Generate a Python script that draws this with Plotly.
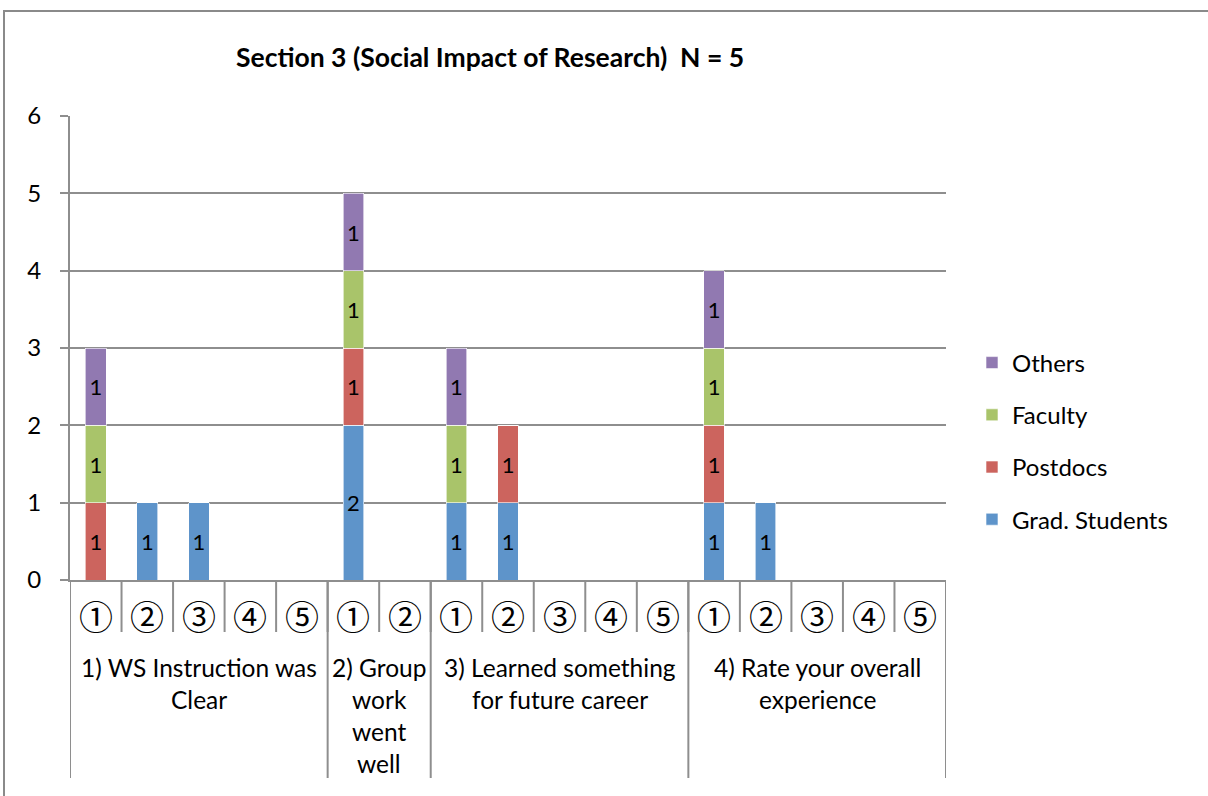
import plotly.graph_objects as go

# ---- data ----
groups = ["1) WS Instruction was\nClear",
          "2) Group\nwork\nwent\nwell",
          "3) Learned something\nfor future career",
          "4) Rate your overall\nexperience"]
group_sizes = [5, 2, 5, 5]
sub_labels = ["①", "②", "③", "④", "⑤", "①", "②",
              "①", "②", "③", "④", "⑤", "①", "②", "③", "④", "⑤"]
grad = [0, 1, 1, 0, 0, 2, 0, 1, 1, 0, 0, 0, 1, 1, 0, 0, 0]
postdocs = [1, 0, 0, 0, 0, 1, 0, 0, 1, 0, 0, 0, 1, 0, 0, 0, 0]
faculty = [1, 0, 0, 0, 0, 1, 0, 1, 0, 0, 0, 0, 1, 0, 0, 0, 0]
others = [1, 0, 0, 0, 0, 1, 0, 1, 0, 0, 0, 0, 1, 0, 0, 0, 0]
series = [("Grad. Students", grad, "#5E94CA"),
          ("Postdocs", postdocs, "#CC645E"),
          ("Faculty", faculty, "#A9C46A"),
          ("Others", others, "#9179B1")]
title = "Section 3 (Social Impact of Research)  N = 5"

FONT = "Lato, Open Sans, DejaVu Sans, sans-serif"
CIRC = "Noto Sans CJK JP"
W, H = 1208, 796
L, R, T, B = 70, 946, 116, 580
GRID = "#8E8E8E"

xs = list(range(len(sub_labels)))
fig = go.Figure()
for i, (name, vals, col) in enumerate(series):
    fig.add_trace(go.Bar(
        x=xs, y=vals, name=name, marker=dict(color=col, line=dict(width=0.6, color="white")),
        width=0.4, text=[str(v) if v > 0 else "" for v in vals],
        textposition="inside", insidetextanchor="middle", textangle=0,
        textfont=dict(color="black", size=22, family=FONT),
        legendgroup=name, legendrank=len(series) - i, hoverinfo="skip"))

def py(p):
    return (B - p) / (B - T)

def px(p):
    return (p - L) / (R - L)

shapes = []
annotations = []
n = len(sub_labels)
# subcategory dividers
for i in range(n + 1):
    shapes.append(dict(type="line", xref="x", yref="paper", x0=i - 0.5, x1=i - 0.5,
                       y0=py(580), y1=py(632), line=dict(color=GRID, width=2)))
# group dividers & labels
start = 0
bounds = [0]
for s in group_sizes:
    start += s
    bounds.append(start)
for b in bounds:
    shapes.append(dict(type="line", xref="x", yref="paper", x0=b - 0.5, x1=b - 0.5,
                       y0=py(580), y1=py(778), line=dict(color=GRID, width=2)))
for gi, g in enumerate(groups):
    cx = (bounds[gi] + bounds[gi + 1] - 1) / 2
    for li, line in enumerate(g.split("\n")):
        annotations.append(dict(x=cx, y=py(667 + 32 * li), xref="x", yref="paper",
                                text=line, showarrow=False, yanchor="middle",
                                font=dict(size=24.5, family=FONT, color="black")))
for i, lab in enumerate(sub_labels):
    annotations.append(dict(x=i, y=py(615), xref="x", yref="paper", text=lab,
                            showarrow=False, yanchor="middle",
                            font=dict(size=34, family=CIRC, color="black")))
# title
annotations.append(dict(x=px(490), y=py(57), xref="paper", yref="paper", text="<b>" + title + "</b>",
                        showarrow=False, yanchor="middle", xanchor="center",
                        font=dict(size=26.5, family=FONT, color="black")))
# outer border
shapes.append(dict(type="rect", xref="paper", yref="paper", x0=px(4), x1=px(1230),
                   y0=py(820), y1=py(11), line=dict(color="#8A8A8A", width=2), layer="below"))

fig.update_layout(
    width=W, height=H, barmode="stack",
    margin=dict(l=L, r=W - R, t=T, b=H - B, autoexpand=False),
    paper_bgcolor="white", plot_bgcolor="white",
    font=dict(family=FONT, size=24, color="black"),
    showlegend=True,
    legend=dict(x=px(972), y=py(441), xanchor="left", yanchor="middle",
                traceorder="grouped", tracegroupgap=18,
                font=dict(size=24, family=FONT, color="black"), itemwidth=30),
    uniformtext=dict(minsize=22, mode="show"),
    shapes=shapes, annotations=annotations,
    xaxis=dict(range=[-0.5, n - 0.5], showticklabels=False, showgrid=False,
               showline=True, linecolor=GRID, linewidth=2, zeroline=False, ticks=""),
    yaxis=dict(range=[0, 6], dtick=1, showgrid=True, gridcolor=GRID, gridwidth=2,
               showline=True, linecolor=GRID, linewidth=2, ticks="outside", ticklen=8,
               tickcolor=GRID, tickwidth=2, zeroline=False, ticklabelstandoff=14,
               tickfont=dict(size=24, family=FONT, color="black")),
)
fig.write_html("out.html")
